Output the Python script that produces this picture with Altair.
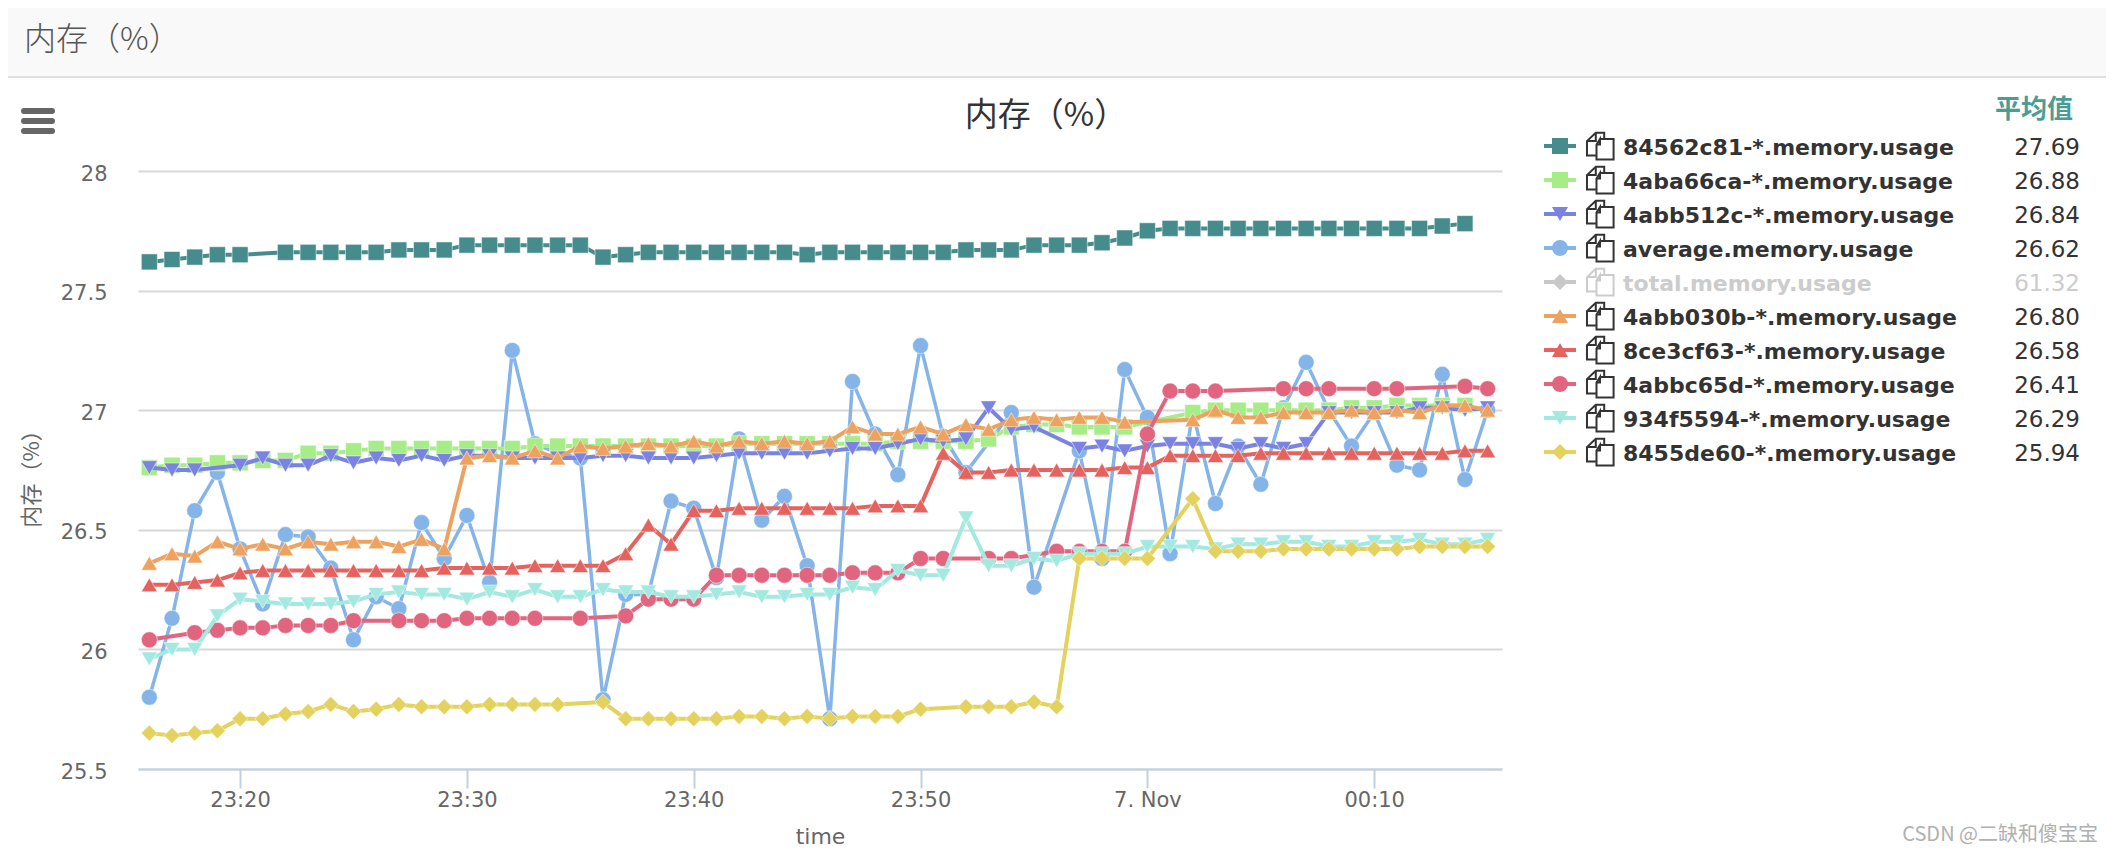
import altair as alt
import pandas as pd

N = None
start = pd.Timestamp("2021-11-06T23:16:00")
minutes = 60

teal = [27.62,27.63,27.64,27.65,27.65,N,27.66,27.66,27.66,27.66,27.66,27.67,27.67,27.67,27.69,27.69,27.69,27.69,27.69,27.69,
        27.64,27.65,27.66,27.66,27.66,27.66,27.66,27.66,27.66,27.65,27.66,27.66,27.66,27.66,27.66,27.66,27.67,27.67,27.67,27.69,
        27.69,27.69,27.70,27.72,27.75,27.76,27.76,27.76,27.76,27.76,27.76,27.76,27.76,27.76,27.76,27.76,27.76,27.77,27.78,N]
green = [26.76,26.77,26.77,26.78,26.78,26.79,26.79,26.82,26.82,26.83,26.84,26.84,26.84,26.84,26.84,26.84,26.84,26.85,26.85,26.85,
         26.85,26.85,26.85,26.85,26.85,26.85,26.86,26.86,26.86,26.86,26.86,26.86,26.86,26.87,26.87,26.87,26.87,26.88,26.93,26.94,
         26.94,26.93,26.93,26.93,N,N,26.99,27.00,27.00,27.00,27.00,27.00,27.00,27.01,27.01,27.02,27.02,27.02,27.02,N]
purple = [26.76,26.75,26.75,N,26.77,26.80,26.77,26.77,26.81,26.78,26.80,26.79,26.81,26.79,26.81,26.81,26.80,26.80,26.80,26.80,
          26.81,26.81,26.80,26.80,26.80,26.81,26.82,26.82,26.82,26.82,26.83,26.84,26.84,26.86,26.88,26.87,26.88,27.01,26.92,26.93,
          N,26.84,26.85,26.83,26.85,26.86,26.86,26.86,26.84,26.86,26.84,26.86,26.99,26.99,26.99,26.99,27.01,27.01,27.00,27.01]
average = [25.80,26.13,26.58,26.74,26.42,26.19,26.48,26.47,26.34,26.04,26.22,26.17,26.53,26.38,26.56,26.28,27.25,26.86,26.82,26.80,
           25.79,26.23,26.23,26.62,26.59,26.30,26.88,26.54,26.64,26.35,25.71,27.12,26.90,26.73,27.27,26.89,26.74,N,26.99,26.26,
           N,26.83,26.38,27.17,26.97,26.40,26.99,26.61,26.85,26.69,27.01,27.20,27.00,26.85,26.99,26.77,26.75,27.15,26.71,27.00]
orange = [26.36,26.40,26.39,26.45,26.42,26.44,26.42,26.45,26.44,26.45,26.45,26.43,26.46,26.42,26.80,26.81,26.80,26.83,26.80,26.85,
          26.84,26.85,26.86,26.85,26.87,26.85,26.87,26.86,26.87,26.86,26.87,26.93,26.90,26.90,26.93,26.90,26.94,26.92,26.96,26.97,
          26.96,26.97,26.97,26.95,N,N,26.96,27.00,26.97,26.97,26.99,26.99,26.99,27.00,26.99,27.00,26.99,27.02,27.02,27.00]
red = [26.27,26.27,26.28,26.29,26.32,26.33,26.33,26.33,26.33,26.33,26.33,26.33,26.33,26.34,26.34,26.34,26.34,26.35,26.35,26.35,
       26.35,26.40,26.52,26.44,26.58,26.58,26.59,26.59,26.59,26.59,26.59,26.59,26.60,26.60,26.60,26.82,26.74,26.74,26.75,26.75,
       26.75,26.75,26.75,26.76,26.76,26.81,26.81,26.81,26.81,26.82,26.82,26.82,26.82,26.82,26.82,26.82,26.82,26.82,26.83,26.83]
pink = [26.04,N,26.07,26.08,26.09,26.09,26.10,26.10,26.10,26.12,N,26.12,26.12,26.12,26.13,26.13,26.13,26.13,N,26.13,
        N,26.14,26.21,26.21,26.21,26.31,26.31,26.31,26.31,26.31,26.31,26.32,26.32,26.32,26.38,26.38,N,26.38,26.38,N,
        26.41,26.41,26.41,26.41,26.90,27.08,27.08,27.08,N,N,27.09,27.09,27.09,N,27.09,27.09,N,N,27.10,27.09]
cyan = [25.96,26.00,26.00,26.14,26.21,26.20,26.19,26.19,26.19,26.20,26.23,26.24,26.23,26.23,26.21,26.24,26.22,26.25,26.22,26.22,
        26.25,26.24,26.24,26.22,26.22,26.23,26.24,26.22,26.22,26.23,26.23,26.26,26.25,26.33,26.31,26.31,26.55,26.35,26.35,26.38,
        26.37,26.40,26.40,26.40,26.43,26.43,26.43,26.42,26.44,26.44,26.45,26.45,26.43,26.43,26.45,26.45,26.46,26.44,26.44,26.46]
yellow = [25.65,25.64,25.65,25.66,25.71,25.71,25.73,25.74,25.77,25.74,25.75,25.77,25.76,25.76,25.76,25.77,25.77,25.77,25.77,N,
          25.78,25.71,25.71,25.71,25.71,25.71,25.72,25.72,25.71,25.72,25.71,25.72,25.72,25.72,25.75,N,25.76,25.76,25.76,25.78,
          25.76,26.38,26.38,26.38,26.38,N,26.63,26.41,26.41,26.41,26.42,26.42,26.42,26.42,26.42,26.42,26.43,26.43,26.43,26.43]

series_names = ["84562c81-*.memory.usage", "4aba66ca-*.memory.usage", "4abb512c-*.memory.usage",
                "average.memory.usage", "total.memory.usage", "4abb030b-*.memory.usage",
                "8ce3cf63-*.memory.usage", "4abbc65d-*.memory.usage", "934f5594-*.memory.usage",
                "8455de60-*.memory.usage"]
series_avg = ["27.69", "26.88", "26.84", "26.62", "61.32", "26.80", "26.58", "26.41", "26.29", "25.94"]
series_colors = ["#468c8c", "#a6ec87", "#7b83e2", "#85b5e8", "#c8c8c8", "#eda260", "#e5635f", "#e2657f", "#a3e9e0", "#e3d25e"]
series_shapes = ["square", "square", "triangle-down", "circle", "diamond", "triangle-up", "triangle-up", "circle",
                 "triangle-down", "diamond"]
series_values = [teal, green, purple, average, None, orange, red, pink, cyan, yellow]
draw_order = [3, 0, 1, 2, 5, 6, 7, 8, 9]   # the average line lies beneath all the others

TEXT = "DejaVu Sans"
CJK = "Noto Sans CJK SC"
L, T, PW, PH = 138, 171, 1364, 598   # plot-area origin in the page and its size
CW, CH = 2098, 840


def px(v):
    return v - L


def py(v):
    return v - T


def dt(day, h, m, s=0):
    return alt.DateTime(year=2021, month=11, date=day, hours=h, minutes=m, seconds=s)


one = pd.DataFrame({"a": [0]})
legend_df = pd.DataFrame({"name": series_names, "avg": series_avg})

x_ticks = [dt(6, 23, 20), dt(6, 23, 30), dt(6, 23, 40), dt(6, 23, 50), dt(7, 0, 0), dt(7, 0, 10)]
x_enc = alt.X("time:T", title="time",
              scale=alt.Scale(domain=[dt(6, 23, 15, 30), dt(7, 0, 15, 38)]),
              axis=alt.Axis(values=x_ticks,
                            labelExpr="hours(datum.value)==0 && minutes(datum.value)==0 ? '7. Nov' : timeFormat(datum.value,'%H:%M')",
                            grid=False, domainColor="#c0d0e0", domainWidth=2, tickColor="#c0d0e0", tickWidth=2,
                            tickSize=19, labelFont=TEXT, labelFontSize=21, labelColor="#666666", labelPadding=1,
                            labelFlush=False, labelOverlap=False,
                            titleFont=TEXT, titleFontSize=22, titleFontWeight="normal", titleColor="#666666",
                            titleX=px(820), titleY=836 - (T + PH), titleBaseline="middle"))
y_scale = alt.Scale(domain=[25.5, 28], nice=False, zero=False)
y_first = alt.Y("v:Q", scale=y_scale, title="内存（%）",
                axis=alt.Axis(values=[25.5, 26, 26.5, 27, 27.5, 28], format=".3~g",
                              domain=False, ticks=False, gridColor="#d8d8d8", gridWidth=2,
                              labelFont=TEXT, labelFontSize=21, labelColor="#666666", labelPadding=31, labelOffset=3,
                              titleFont=CJK, titleFontSize=22, titleFontWeight="normal", titleColor="#666666",
                              titleX=px(31), titleY=py(473), titleAngle=270, titleBaseline="middle"))
y_rest = alt.Y("v:Q", scale=y_scale, axis=None)

layers = []
first = True
for k in draw_order:
    name, vals, col, shp = series_names[k], series_values[k], series_colors[k], series_shapes[k]
    df = pd.DataFrame({
        "time": [(start + pd.Timedelta(minutes=i)).strftime("%Y-%m-%dT%H:%M:%S") for i in range(minutes) if vals[i] is not None],
        "v": [v for v in vals if v is not None],
    })
    lw = 3.5 if name.startswith("average") else 4
    layers.append(alt.Chart(df).mark_line(color=col, strokeWidth=lw, interpolate="linear", strokeJoin="round")
                  .encode(x=x_enc, y=y_first if first else y_rest))
    first = False
    layers.append(alt.Chart(df).mark_point(shape=shp, filled=True, color=col, size=256, opacity=1, stroke="#ffffff",
                                           strokeWidth=0.5)
                  .encode(x=x_enc, y=y_rest))

# page header strip
header = [
    alt.Chart(one).mark_rect(fill="#f9f9f9").encode(x=alt.value(-L), x2=alt.value(CW), y=alt.value(py(0)), y2=alt.value(py(76))),
    alt.Chart(one).mark_rule(color="#e0e0e0", strokeWidth=2).encode(x=alt.value(-L), x2=alt.value(CW), y=alt.value(py(77))),
    alt.Chart(one).mark_text(text="内存（%）", font=CJK, fontSize=32, fontWeight=300, color="#555555", align="left", baseline="middle")
    .encode(x=alt.value(px(24)), y=alt.value(py(40))),
    alt.Chart(one).mark_text(text="内存（%）", font=CJK, fontSize=33, color="#333333", align="center", baseline="middle")
    .encode(x=alt.value(px(1046)), y=alt.value(py(116))),
    alt.Chart(one).mark_text(text="平均值", font=CJK, fontSize=26, fontWeight="bold", color="#4a9d92", align="center", baseline="middle")
    .encode(x=alt.value(px(2034)), y=alt.value(py(110))),
    alt.Chart(one).mark_text(text="CSDN @二缺和傻宝宝", font=CJK, fontSize=20, color="#b0b0b0", align="right", baseline="middle")
    .encode(x=alt.value(px(2098)), y=alt.value(py(835))),
]
for yy in (111, 121, 131):
    header.append(alt.Chart(one).mark_rule(color="#666666", strokeWidth=6, strokeCap="round")
                  .encode(x=alt.value(px(24)), x2=alt.value(px(52)), y=alt.value(py(yy))))

# right-hand table of series
row_y = alt.Y("name:N", sort=series_names, axis=None, title=None,
              scale=alt.Scale(type="point", domain=series_names, range=[py(146), py(452)], padding=0))
row_color = alt.Color("name:N", scale=alt.Scale(domain=series_names, range=series_colors), legend=None)
row_shape = alt.Shape("name:N", scale=alt.Scale(domain=series_names, range=series_shapes), legend=None)
text_color = alt.condition(alt.datum.name == "total.memory.usage", alt.value("#cccccc"), alt.value("#333333"))
ICON = ("M-0.3,0.68 L-0.93,0.68 L-0.93,-0.35 L-0.3,-0.95 L0.3,-0.95 L0.3,-0.5 "
        "M0,-0.5 L0.97,-0.5 L0.97,0.97 L-0.25,0.97 L-0.25,-0.1 L0,-0.5 L0,-0.1 L-0.25,-0.1 "
        "M-0.3,-0.95 L-0.3,-0.35 L-0.93,-0.35")
table = [
    alt.Chart(legend_df).mark_rule(strokeWidth=4).encode(x=alt.value(px(1544)), x2=alt.value(px(1576)), y=row_y, color=row_color),
    alt.Chart(legend_df).mark_point(filled=True, size=256, opacity=1).encode(x=alt.value(px(1560)), y=row_y, color=row_color, shape=row_shape),
    alt.Chart(legend_df).mark_point(shape=ICON, filled=False, size=784, strokeWidth=2, opacity=1)
    .encode(x=alt.value(px(1600)), y=row_y, color=text_color),
    alt.Chart(legend_df).mark_text(font=TEXT, fontSize=22, fontWeight="bold", align="left", baseline="middle", dy=2)
    .encode(x=alt.value(px(1623)), y=row_y, text="name:N", color=text_color),
    alt.Chart(legend_df).mark_text(font=TEXT, fontSize=23, align="right", baseline="middle", dy=2)
    .encode(x=alt.value(px(2080)), y=row_y, text="avg:N", color=text_color),
]

chart = (alt.layer(*header, *layers, *table)
         .resolve_scale(y="independent", color="independent", shape="independent")
         .properties(width=PW, height=PH, background="#ffffff",
                     autosize=alt.AutoSizeParams(type="none"),
                     padding={"left": L - 8, "top": T - 8, "right": CW - (L - 8) - PW, "bottom": CH - (T - 8) - PH})
         .configure_view(strokeWidth=0))

chart.save("out.html", embed_options={"renderer": "svg", "actions": False})
